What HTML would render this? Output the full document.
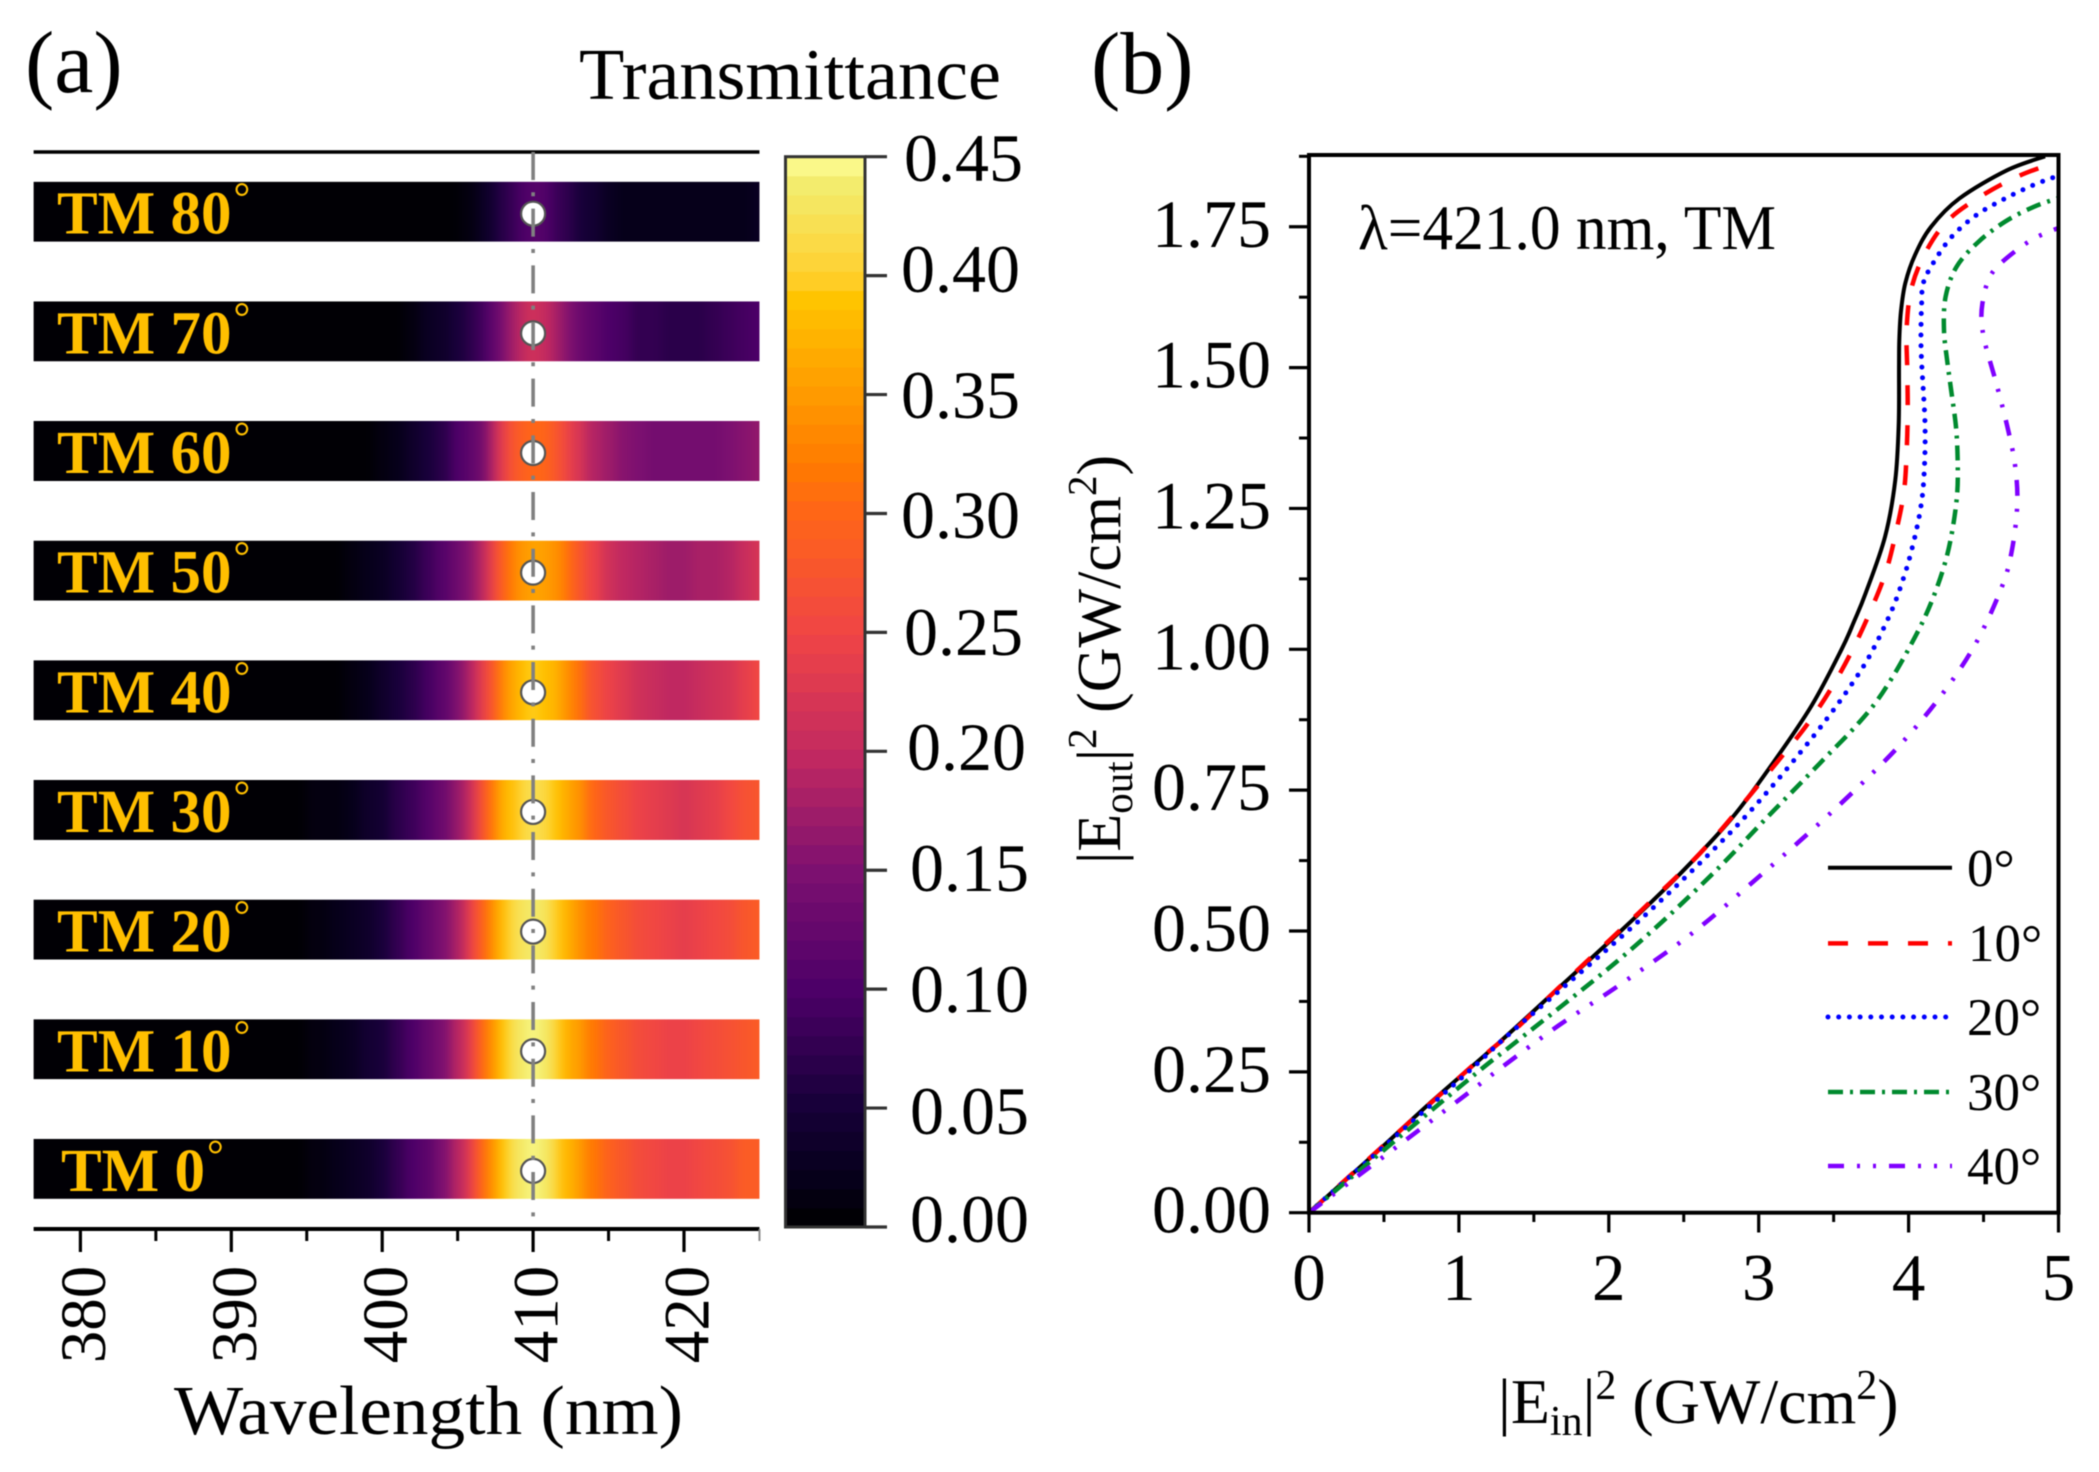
<!DOCTYPE html>
<html lang="en">
<head>
<meta charset="utf-8">
<title>Transmittance heatmap and optical limiting curves</title>
<style>
  html, body { margin: 0; padding: 0; background: #fff; }
  #figure { display: block; width: 2099px; height: 1472px; filter: blur(0.6px); }
  text { font-family: "Liberation Serif", "DejaVu Serif", serif; fill: #000; }
</style>
</head>
<body>
<svg id="figure" xmlns="http://www.w3.org/2000/svg" width="2099" height="1472" viewBox="0 0 2099 1472">
  <defs>
    <filter id="rowBlur" filterUnits="userSpaceOnUse" x="0" y="0" width="2099" height="1472" color-interpolation-filters="sRGB">
      <feGaussianBlur stdDeviation="5 0"/>
    </filter>
  </defs>
  <rect x="0" y="0" width="2099" height="1472" fill="#fff"/>

  <text x="25" y="92" font-size="88">(a)</text>
  <text x="1091" y="93" font-size="88">(b)</text>
  <text x="579" y="99" font-size="73" textLength="422" lengthAdjust="spacingAndGlyphs">Transmittance</text>
  <text x="174" y="1434" font-size="70" textLength="509" lengthAdjust="spacingAndGlyphs">Wavelength (nm)</text>

  <g id="panelA"></g>
  <g id="colorbar"></g>

  <g font-size="68">
    <text x="904" y="181">0.45</text>
    <text x="901" y="292">0.40</text>
    <text x="901" y="418">0.35</text>
    <text x="901" y="538">0.30</text>
    <text x="904" y="655">0.25</text>
    <text x="907" y="770">0.20</text>
    <text x="910" y="891">0.15</text>
    <text x="910" y="1012">0.10</text>
    <text x="910" y="1134">0.05</text>
    <text x="910" y="1242">0.00</text>
  </g>

  <g id="panelB"></g>

  <text x="1358" y="249" font-size="64" textLength="418" lengthAdjust="spacingAndGlyphs">λ=421.0 nm, TM</text>

  <text x="1498" y="1423" font-size="64">|E<tspan font-size="42" dy="12">in</tspan><tspan dy="-12">|</tspan><tspan font-size="42" dy="-24">2</tspan><tspan dy="24"> (GW/cm</tspan><tspan font-size="42" dy="-24">2</tspan><tspan dy="24">)</tspan></text>
  <text transform="translate(1120 864) rotate(-90)" font-size="62">|E<tspan font-size="41" dy="12">out</tspan><tspan dy="-12">|</tspan><tspan font-size="41" dy="-24">2</tspan><tspan dy="24"> (GW/cm</tspan><tspan font-size="41" dy="-24">2</tspan><tspan dy="24">)</tspan></text>

  <g font-size="53">
    <text x="1967" y="886">0°</text>
    <text x="1968" y="961">10°</text>
    <text x="1967" y="1035">20°</text>
    <text x="1967" y="1110">30°</text>
    <text x="1967" y="1184">40°</text>
  </g>
</svg>

<script>
/* ---------- panel (a) data ---------- */
const wavelengths = [377,381,384,387,390,392,394,396,397,398,399,400,401,402,403,404,405,405.5,406,406.5,407,407.5,408,408.5,409,409.5,410,410.5,411,411.5,412,412.5,413,414,415,416,417,418,419,420,421,422,423,424,425];
const angles = [80,70,60,50,40,30,20,10,0];
const wavelengthTicks = [380,390,400,410,420];
const wavelengthMinorTicks = [385,395,405,415,425];
const colorbarTicks = [0,0.05,0.10,0.15,0.20,0.25,0.30,0.35,0.40,0.45];
const markerWavelength = 410;

const t80 = [0,0,0,0,0,0,0,0,0,0,0,0,0,0,0,.002,.006,.01,.015,.025,.038,.055,.07,.08,.092,.102,.108,.105,.098,.088,.076,.065,.055,.042,.03,.024,.02,.018,.018,.018,.018,.018,.02,.022,.025];
const t70 = [0,0,0,0,0,0,0,0,0,0,.001,.004,.008,.016,.025,.036,.052,.062,.075,.088,.105,.128,.15,.172,.19,.203,.21,.205,.195,.18,.165,.15,.135,.118,.102,.09,.08,.074,.07,.07,.072,.076,.085,.095,.102];
const t60 = [0,0,0,0,0,0,0,.001,.002,.004,.006,.014,.024,.036,.05,.068,.098,.11,.125,.135,.165,.205,.24,.27,.285,.297,.302,.3,.29,.28,.258,.238,.218,.19,.17,.155,.145,.14,.138,.138,.14,.143,.15,.158,.168];
const t50 = [0,0,0,0,0,0,.001,.003,.005,.012,.018,.028,.042,.062,.082,.105,.13,.145,.165,.185,.225,.262,.295,.32,.34,.352,.358,.355,.35,.34,.325,.298,.275,.245,.215,.198,.185,.178,.175,.175,.178,.183,.192,.205,.218];
const t40 = [0,0,0,0,0,0,.002,.005,.008,.014,.024,.035,.052,.072,.095,.12,.15,.17,.195,.23,.262,.292,.33,.36,.375,.388,.395,.392,.385,.37,.35,.33,.31,.272,.245,.228,.212,.205,.2,.2,.202,.21,.222,.235,.25];
const t30 = [0,0,0,0,0,.001,.004,.01,.014,.022,.034,.046,.065,.088,.112,.135,.165,.19,.225,.262,.3,.33,.37,.385,.4,.41,.418,.415,.405,.39,.375,.358,.34,.305,.28,.26,.245,.235,.228,.225,.23,.24,.252,.268,.28];
const t20 = [0,0,0,0,.001,.002,.006,.014,.02,.028,.04,.05,.075,.098,.122,.145,.18,.21,.25,.285,.32,.355,.385,.405,.42,.43,.438,.432,.42,.398,.38,.362,.345,.315,.295,.275,.258,.25,.242,.24,.245,.255,.265,.278,.285];
const t10 = [0,0,0,.001,.002,.004,.008,.016,.022,.03,.042,.055,.08,.1,.122,.148,.185,.215,.255,.29,.325,.358,.388,.41,.43,.44,.445,.44,.428,.405,.385,.368,.35,.32,.297,.28,.265,.255,.248,.245,.25,.258,.268,.28,.287];
const t00 = [0,0,0,0,.002,.004,.008,.016,.022,.03,.04,.055,.08,.1,.12,.145,.185,.215,.255,.29,.325,.36,.39,.41,.43,.44,.445,.44,.43,.405,.385,.37,.35,.32,.295,.28,.262,.253,.247,.245,.25,.258,.27,.282,.288];
const transmittanceRows = [t80,t70,t60,t50,t40,t30,t20,t10,t00];

/* colormap */
const cmapValues = [0,.02,.05,.10,.15,.20,.25,.30,.32,.35,.39,.40,.44,.45];
const cmapColors = ['#000000','#06001a','#160038','#4d0068','#7d1070','#c42a60','#f04545','#ff6518','#ff7a00','#ff9a00','#ffc400','#ffd030','#f2ee70','#ffff99'];
const cmapLevels = 56;
const cmapMax = 0.45;

/* ---------- panel (b) data ---------- */
const xTicksB = [0,1,2,3,4,5];
const xMinorB = [0.5,1.5,2.5,3.5,4.5];
const yTicksB = [0,0.25,0.50,0.75,1.00,1.25,1.50,1.75];
const yMinorB = [0.125,0.375,0.625,0.875,1.125,1.375,1.625,1.875];

const eout0 = [0,.1,.2,.3,.4,.5,.6,.7,.8,.9,1,1.05,1.1,1.2,1.3,1.4,1.5,1.55,1.6,1.65,1.7,1.75,1.8,1.85,1.875];
const ein0 = [0,.42,.83,1.26,1.67,2.08,2.47,2.82,3.10,3.353,3.553,3.637,3.714,3.843,3.911,3.934,3.936,3.938,3.949,3.978,4.043,4.15,4.338,4.654,4.91];
const eout10 = [0,.26,.319,.399,.5,.55,.655,.819,.876,.937,1.002,1.07,1.138,1.208,1.28,1.351,1.425,1.497,1.57,1.642,1.706,1.762,1.806,1.841,1.866];
const ein10 = [0,1.087,1.35,1.665,2.07,2.27,2.668,3.182,3.349,3.498,3.631,3.749,3.849,3.916,3.969,3.987,3.994,3.991,3.987,4.02,4.116,4.265,4.494,4.743,5.0];
const eout20 = [0,.235,.311,.403,.496,.585,.68,.76,.834,.882,.93,.979,1.03,1.083,1.138,1.176,1.214,1.25,1.289,1.348,1.404,1.46,1.499,1.537,1.576,1.614,1.65,1.686,1.732,1.771,1.8,1.824,1.84];
const ein20 = [0,1,1.31,1.71,2.11,2.47,2.83,3.10,3.33,3.47,3.6,3.72,3.82,3.909,3.98,4.02,4.054,4.08,4.098,4.109,4.109,4.098,4.089,4.083,4.083,4.087,4.098,4.165,4.287,4.454,4.643,4.832,4.992];
const eout30 = [0,.231,.297,.37,.445,.521,.614,.70,.768,.812,.857,.904,.953,1.003,1.055,1.108,1.164,1.221,1.28,1.339,1.395,1.454,1.511,1.567,1.626,1.679,1.723,1.759,1.785,1.801];
const ein30 = [0,1.04,1.352,1.70,2.05,2.375,2.74,3.05,3.30,3.46,3.625,3.776,3.898,4.005,4.105,4.187,4.254,4.298,4.325,4.327,4.316,4.287,4.258,4.236,4.247,4.32,4.465,4.643,4.832,5];
const eout40 = [0,.2,.263,.332,.403,.496,.596,.675,.75,.829,.915,1.008,1.11,1.177,1.258,1.327,1.395,1.474,1.543,1.583,1.613,1.65,1.681,1.725,1.748];
const ein40 = [0,1,1.31,1.664,2.065,2.556,3,3.338,3.642,3.938,4.209,4.443,4.621,4.69,4.725,4.71,4.659,4.583,4.51,4.487,4.492,4.525,4.598,4.81,5];

const seriesEin = [ein0,ein10,ein20,ein30,ein40];
const seriesEout = [eout0,eout10,eout20,eout30,eout40];
const seriesNames = ['curve-0-deg','curve-10-deg','curve-20-deg','curve-30-deg','curve-40-deg'];
const seriesColors = ['#000000','#ff0000','#0000ff','#008a2e','#8000ff'];
const seriesDashes = ['none','20 20','0 10.7','15 7 3 7','16 13 3 13 3 13'];
const seriesWidths = [4,4.5,5,4.5,4.5];
const seriesCaps = ['butt','butt','round','butt','butt'];

/* ---------- helpers ---------- */
const NS = 'http://www.w3.org/2000/svg';
function make(parent, tag, attrs) {
  const el = document.createElementNS(NS, tag);
  for (const k in attrs) el.setAttribute(k, attrs[k]);
  parent.appendChild(el);
  return el;
}
function hexToRgb(h) {
  return [parseInt(h.slice(1,3),16), parseInt(h.slice(3,5),16), parseInt(h.slice(5,7),16)];
}
function colorFor(v) {
  const step = cmapMax / cmapLevels;
  const clamped = Math.max(0, Math.min(cmapMax - 1e-6, v));
  const q = (Math.floor(clamped / step) + 0.5) * step;
  let i = 0;
  while (i < cmapValues.length - 2 && q > cmapValues[i + 1]) i++;
  const f = (q - cmapValues[i]) / (cmapValues[i + 1] - cmapValues[i]);
  const a = hexToRgb(cmapColors[i]), b = hexToRgb(cmapColors[i + 1]);
  return 'rgb(' + a.map((c, k) => Math.round(c + (b[k] - c) * f)).join(',') + ')';
}

/* ---------- panel (a) axes ---------- */
const xWave = w => 80.4 + (w - 380) * 15.09;
const rowTop = i => 181.7 + i * 119.65;
const rowHeight = 60;
const yBar = v => 1227 - v * (1227 - 156.7) / cmapMax;

const panelA = document.getElementById('panelA');
const defs = document.querySelector('#figure defs');

const topLine = make(panelA, 'line', {x1: xWave(376.9), x2: xWave(425), y1: 152, y2: 152, stroke: '#000', 'stroke-width': 3.5});



transmittanceRows.forEach((row, r) => {
  const top = rowTop(r);
  const clip = make(defs, 'clipPath', {id: 'rowClip' + r});
  make(clip, 'rect', {x: xWave(376.9), y: top, width: xWave(425) - xWave(376.9), height: rowHeight});
  const g = make(panelA, 'g', {});
  
  
  const clipped = make(g, 'g', {'clip-path': 'url(#rowClip' + r + ')'});
  const cells = make(clipped, 'g', {filter: 'url(#rowBlur)'});
  row.forEach((v, c) => {
    const x0 = c === 0 ? xWave(376.9) - 30 : xWave((wavelengths[c - 1] + wavelengths[c]) / 2);
    const x1 = c === row.length - 1 ? xWave(425) + 30 : xWave((wavelengths[c] + wavelengths[c + 1]) / 2);
    const cell = make(cells, 'rect', {x: x0, y: top, width: x1 - x0 + 0.6, height: rowHeight, fill: colorFor(v)});
    
    
  });
  const labelX = angles[r] === 0 ? 61 : 57;
  const label = make(g, 'text', {x: labelX, y: top + 52, 'font-size': 61, 'font-weight': 'bold', style: 'fill:#FFBF00'});
  label.textContent = 'TM ' + angles[r];
  
  
  const deg = make(g, 'text', {x: labelX + label.getComputedTextLength() + 2, y: top + 30, 'font-size': 42, style: 'fill:#FFBF00'});
  deg.textContent = '°';
  
  
  const marker = make(panelA, 'circle', {cx: xWave(markerWavelength), cy: top + rowHeight / 2 + 2, r: 12, fill: '#fff', stroke: '#555', 'stroke-width': 2.2});
  
  
});

const refLine = make(panelA, 'line', {x1: xWave(markerWavelength), x2: xWave(markerWavelength), y1: 152, y2: 1229, stroke: '#808080', 'stroke-width': 3.6, 'stroke-dasharray': '28 12.3 4 12.37'});



const waveAxis = make(panelA, 'line', {x1: xWave(376.9), x2: xWave(425), y1: 1229, y2: 1229, stroke: '#000', 'stroke-width': 4});



wavelengthTicks.forEach(w => {
  const t = make(panelA, 'line', {x1: xWave(w), x2: xWave(w), y1: 1229, y2: 1252, stroke: '#000', 'stroke-width': 3.2});
  
  
  const l = make(panelA, 'text', {transform: 'translate(' + (xWave(w) + 24.6) + ' 1314.5) rotate(-90)', 'font-size': 65, 'text-anchor': 'middle'});
  l.textContent = w;
  
  
});
wavelengthMinorTicks.forEach(w => {
  const t = make(panelA, 'line', {x1: xWave(w), x2: xWave(w), y1: 1229, y2: 1241, stroke: w === 425 ? '#888' : '#000', 'stroke-width': w === 425 ? 2 : 3});
  
  
});

/* ---------- colorbar ---------- */
const colorbar = document.getElementById('colorbar');
for (let i = 0; i < cmapLevels; i++) {
  const v0 = i * cmapMax / cmapLevels, v1 = (i + 1) * cmapMax / cmapLevels;
  const s = make(colorbar, 'rect', {x: 785.5, y: yBar(v1), width: 79.5, height: yBar(v0) - yBar(v1) + 0.5, fill: colorFor((v0 + v1) / 2)});
  
  
}
const barFrame = make(colorbar, 'rect', {x: 785.5, y: yBar(cmapMax), width: 79.5, height: yBar(0) - yBar(cmapMax), fill: 'none', stroke: '#333', 'stroke-width': 3});


colorbarTicks.forEach(v => {
  const t = make(colorbar, 'line', {x1: 865, x2: 887, y1: yBar(v), y2: yBar(v), stroke: '#333', 'stroke-width': 3.2});
  
  
});

/* ---------- panel (b) ---------- */
const xEin = v => 1309 + v * 149.9;
const yEout = v => 1212.7 - v * 563.4;
const panelB = document.getElementById('panelB');

function curvePath(ein, eout) {
  const p = ein.map((v, i) => [xEin(v), yEout(eout[i])]);
  let d = 'M' + p[0][0].toFixed(2) + ' ' + p[0][1].toFixed(2);
  for (let i = 0; i < p.length - 1; i++) {
    const a = p[Math.max(0, i - 1)], b = p[i], c = p[i + 1], e = p[Math.min(p.length - 1, i + 2)];
    d += 'C' + (b[0] + (c[0] - a[0]) / 6).toFixed(2) + ' ' + (b[1] + (c[1] - a[1]) / 6).toFixed(2) + ' ' +
         (c[0] - (e[0] - b[0]) / 6).toFixed(2) + ' ' + (c[1] - (e[1] - b[1]) / 6).toFixed(2) + ' ' +
         c[0].toFixed(2) + ' ' + c[1].toFixed(2);
  }
  return d;
}

seriesEin.forEach((ein, i) => {
  const path = make(panelB, 'path', {d: curvePath(ein, seriesEout[i]), fill: 'none', stroke: seriesColors[i], 'stroke-width': seriesWidths[i], 'stroke-dasharray': seriesDashes[i], 'stroke-linecap': seriesCaps[i]});
  
  
});

const legendRowY = [867.7, 943.4, 1017, 1092, 1166];
seriesColors.forEach((color, i) => {
  const l = make(panelB, 'line', {x1: 1828, x2: 1952, y1: legendRowY[i], y2: legendRowY[i], stroke: color, 'stroke-width': seriesWidths[i], 'stroke-dasharray': seriesDashes[i], 'stroke-linecap': seriesCaps[i]});
  
  
});

const frame = make(panelB, 'rect', {x: xEin(0), y: 155, width: xEin(5) - xEin(0), height: yEout(0) - 155, fill: 'none', stroke: '#000', 'stroke-width': 4});



xTicksB.forEach(v => {
  const t = make(panelB, 'line', {x1: xEin(v), x2: xEin(v), y1: yEout(0), y2: 1232.5, stroke: '#000', 'stroke-width': 3.2});
  
  
  const l = make(panelB, 'text', {x: xEin(v), y: 1300, 'font-size': 67, 'text-anchor': 'middle'});
  l.textContent = v;
  
  
});
xMinorB.forEach(v => {
  const t = make(panelB, 'line', {x1: xEin(v), x2: xEin(v), y1: yEout(0), y2: 1222, stroke: '#000', 'stroke-width': 3});
  
  
});
yTicksB.forEach(v => {
  const t = make(panelB, 'line', {x1: 1289, x2: xEin(0), y1: yEout(v), y2: yEout(v), stroke: '#000', 'stroke-width': 3.2});
  
  
  const l = make(panelB, 'text', {x: 1271, y: yEout(v) + 20, 'font-size': 68, 'text-anchor': 'end'});
  l.textContent = v.toFixed(2);
  
  
});
yMinorB.forEach(v => {
  const t = make(panelB, 'line', {x1: 1299, x2: xEin(0), y1: yEout(v), y2: yEout(v), stroke: '#000', 'stroke-width': 3});
  
  
});
</script>
</body>
</html>
